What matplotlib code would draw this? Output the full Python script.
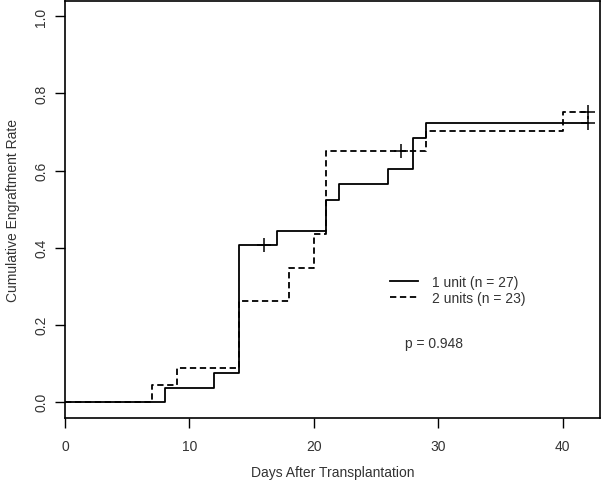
import matplotlib
matplotlib.use("Agg")
from matplotlib import pyplot as plt

plt.rcParams['font.family'] = ['Liberation Sans', 'DejaVu Sans']

# 1 unit (n = 27)
t1 = [0, 8, 12, 14, 17, 21, 22, 26, 28, 29, 42]
y1 = [0, 0.037, 0.074, 0.407, 0.444, 0.524, 0.564, 0.604, 0.684, 0.724, 0.724]
cens1_t = [16, 42]
cens1_y = [0.407, 0.724]

# 2 units (n = 23)
t2 = [0, 7, 9, 14, 18, 20, 21, 29, 40, 42]
y2 = [0, 0.043, 0.087, 0.261, 0.348, 0.435, 0.652, 0.702, 0.751, 0.751]
cens2_t = [27, 42]
cens2_y = [0.652, 0.751]

labels = ["1 unit (n = 27)", "2 units (n = 23)"]
xticks = [0, 10, 20, 30, 40]
yticks = [0.0, 0.2, 0.4, 0.6, 0.8, 1.0]

fig = plt.figure(figsize=(6.01, 4.85), dpi=100)
ax = fig.add_axes([65/601, 1 - 419/485, 535/601, 417/485])

lw = 1.3
l1, = ax.step(t1, y1, where='post', color='black', lw=lw)
l2, = ax.step(t2, y2, where='post', color='black', lw=lw, dashes=(3.5, 2))
ax.plot(cens1_t, cens1_y, '+', color='black', ms=10, mew=1.1)
ax.plot(cens2_t, cens2_y, '+', color='black', ms=10, mew=1.1)

ax.set_xlim(0, 43)
ax.set_ylim(-0.042, 1.04)
ax.set_xticks(xticks)
ax.set_yticks(yticks)
ax.set_yticklabels([f"{v:.1f}" for v in yticks], rotation=90, va='center')
ax.tick_params(direction='out', length=7, width=1, labelsize=10, colors='black')
ax.tick_params(axis='x', labelcolor='#333333', pad=8)
ax.tick_params(axis='y', labelcolor='#333333', pad=5)
for s in ax.spines.values():
    s.set_linewidth(1.2)

ax.set_xlabel("Days After Transplantation", fontsize=10, color='#333333', labelpad=9)
ax.set_ylabel("Cumulative Engraftment Rate", fontsize=10, color='#333333', labelpad=10)

leg = ax.legend([l1, l2], labels, loc='upper left', frameon=False, fontsize=10,
                handlelength=2.0, handletextpad=1.0, labelspacing=0.15,
                borderaxespad=0, borderpad=0,
                bbox_to_anchor=((390 - 65) / 535, 1 - (276 - 2) / 417))
for t in leg.get_texts():
    t.set_color('#333333')

ax.text((405 - 65) / 535, 1 - (344 - 2) / 417, "p = 0.948", transform=ax.transAxes,
        fontsize=10, color='#333333', va='center', ha='left')

fig.savefig("out.png", dpi=100)
